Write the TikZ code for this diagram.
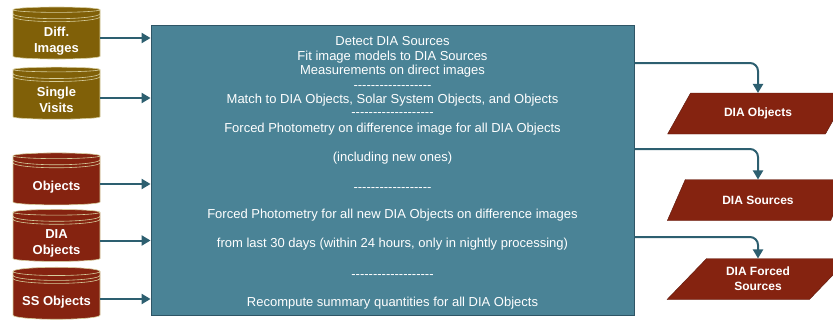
\documentclass[tikz,border=0pt]{standalone}
\usepackage{fontspec}
\setmainfont{Liberation Sans}
\usetikzlibrary{arrows.meta,positioning,shapes.geometric}
\definecolor{boxteal}{HTML}{4A8396}
\definecolor{boxedge}{HTML}{2E5566}
\definecolor{flowteal}{HTML}{2D5F70}
\definecolor{dbgold}{HTML}{806008}
\definecolor{dbred}{HTML}{852310}
\definecolor{dbedge}{HTML}{D6CD9C}
\newcommand{\sepline}[1]{\raisebox{-0.5pt}{\foreach \k in {1,...,#1}{-\kern0pt}}}
\newcommand{\dbtext}[1]{\raisebox{-9.5pt}[0pt][0pt]{\begin{tabular}{@{}c@{}}#1\end{tabular}}}
\tikzset{
	every node/.style={text=white},
	db/.style={
		cylinder, shape border rotate=90, aspect=0.12,
		fill=#1, draw=dbedge, semithick,
		minimum width=87pt, minimum height=52pt,
		inner sep=0pt, outer sep=0pt,
		font=\fontsize{13}{16}\selectfont\bfseries
	},
	dbline/.style={draw=dbedge, semithick},
	process/.style={
		rectangle, fill=boxteal, draw=boxedge, thick,
		minimum width=483pt, minimum height=290pt,
		align=center, font=\fontsize{13}{14.5}\selectfont
	},
	result/.style={
		trapezium, trapezium left angle=44, trapezium right angle=136,
		trapezium stretches=true,
		fill=dbred, draw=dbred!70!black,
		minimum width=182pt, minimum height=41pt,
		inner sep=0pt, outer sep=0pt, align=center,
		font=\fontsize{12}{15}\selectfont\bfseries
	},
	flow/.style={
		draw=flowteal, line width=2pt,
		-{Triangle[width=10pt,length=9pt]}
	}
}

\begin{document}
\begin{tikzpicture}[x=1pt,y=-1pt]
	\useasboundingbox (0,0) rectangle (833,324);

	% processing box
	\node[process] (detect) at (392.5,170.5) {
		\rule{0pt}{14pt}Detect DIA Sources\\
		Fit image models to DIA Sources\\
		Measurements on direct images\\
		\sepline{18}\\
		Match to DIA Objects, Solar System Objects, and Objects\\[-2.5pt]
		\sepline{19}\\[2.5pt]
		Forced Photometry on difference image for all DIA Objects\\[14.5pt]
		(including new ones)\\[14.5pt]
		\sepline{18}\\[13.5pt]
		Forced Photometry for all new DIA Objects on difference images\\[14.5pt]
		from last 30 days (within 24 hours, only in nightly processing)\\[15.5pt]
		\sepline{19}\\[14.5pt]
		Recompute summary quantities for all DIA Objects};

	% inputs
	\node[db=dbgold] (diffim) at (56.5,34.5) {\dbtext{Diff.\\Images}};
	\node[db=dbgold] (single) at (56.5,94.5) {\dbtext{Single\\Visits}};
	\node[db=dbred] (objects) at (56.5,180.5) {\dbtext{Objects}};
	\node[db=dbred] (diaobj) at (56.5,237) {\dbtext{DIA\\Objects}};
	\node[db=dbred] (ssobj) at (56.5,295.5) {\dbtext{SS Objects}};

	\foreach \n in {diffim,single,objects,diaobj,ssobj}{
		\draw[dbline] ([yshift=-4pt]\n.before top) arc[start angle=180,end angle=360,x radius=43.5pt,y radius=5pt];
		\draw[dbline] ([yshift=-7pt]\n.before top) arc[start angle=180,end angle=360,x radius=43.5pt,y radius=5pt];
		\draw[flow] ([yshift=-3.5pt]\n.east) -- ([yshift=-3.5pt]\n.east -| detect.west);
	}

	% outputs
	\node[result] (diaobjout) at (758,113.5) {DIA Objects};
	\node[result] (diasrc) at (758,200) {DIA Sources};
	\node[result] (diaforced) at (758,279) {DIA Forced\\Sources};

	\draw[flow, rounded corners=8pt] (detect.east |- 0,63) -| (diaobjout.north);
	\draw[flow, rounded corners=8pt] (detect.east |- 0,149) -| (diasrc.north);
	\draw[flow, rounded corners=8pt] (detect.east |- 0,237) -| (diaforced.north);
\end{tikzpicture}
\end{document}
